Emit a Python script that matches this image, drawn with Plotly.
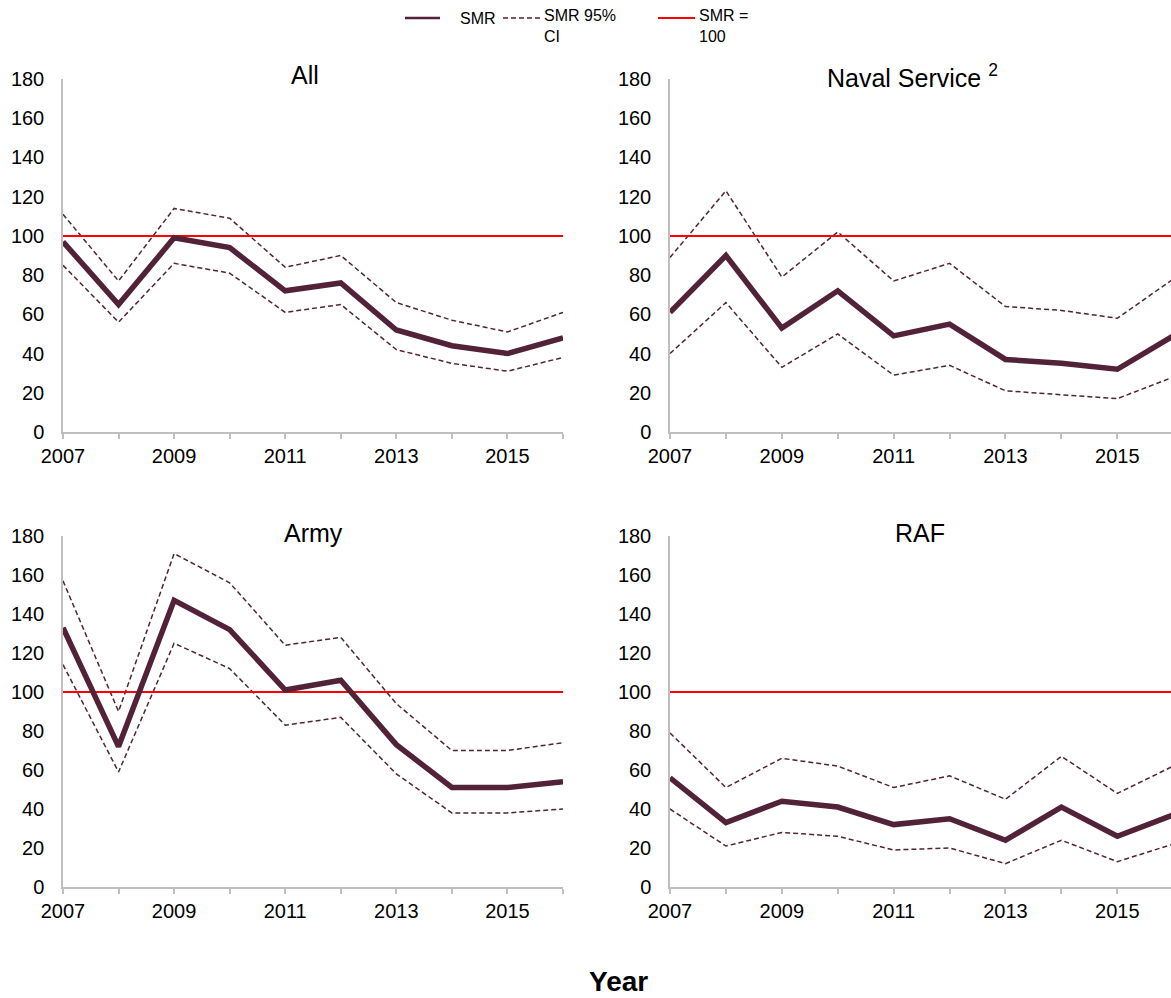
import plotly.graph_objects as go

years = [2007, 2008, 2009, 2010, 2011, 2012, 2013, 2014, 2015, 2016]
x_label_years = [2007, 2009, 2011, 2013, 2015]
x_tick_labels = ["2007", "2009", "2011", "2013", "2015"]
y_ticks = [0, 20, 40, 60, 80, 100, 120, 140, 160, 180]

panel_titles = ["All", "Naval Service <sup>2</sup>", "Army", "RAF"]

all_smr = [97, 65, 99, 94, 72, 76, 52, 44, 40, 48]
all_upper = [111, 77, 114, 109, 84, 90, 66, 57, 51, 61]
all_lower = [85, 56, 86, 81, 61, 65, 42, 35, 31, 38]

naval_smr = [61, 90, 53, 72, 49, 55, 37, 35, 32, 49]
naval_upper = [89, 123, 79, 102, 77, 86, 64, 62, 58, 78]
naval_lower = [40, 66, 33, 50, 29, 34, 21, 19, 17, 28]

army_smr = [133, 72, 147, 132, 101, 106, 73, 51, 51, 54]
army_upper = [157, 90, 171, 156, 124, 128, 94, 70, 70, 74]
army_lower = [114, 59, 125, 112, 83, 87, 58, 38, 38, 40]

raf_smr = [56, 33, 44, 41, 32, 35, 24, 41, 26, 37]
raf_upper = [79, 51, 66, 62, 51, 57, 45, 67, 48, 62]
raf_lower = [40, 21, 28, 26, 19, 20, 12, 24, 13, 22]

reference_value = 100

legend_labels = ["SMR", "SMR 95%<br>CI", "SMR =<br>100"]

panels = [
    (all_smr, all_upper, all_lower),
    (naval_smr, naval_upper, naval_lower),
    (army_smr, army_upper, army_lower),
    (raf_smr, raf_upper, raf_lower),
]

W, H = 1171, 998
SMR_COLOR = "#522338"
RED = "#FF0000"
AXIS_GRAY = "#BFBFBF"
FONT = "Liberation Sans, Arial, sans-serif"

# pixel layout of each panel: (x_left, x_right, y_bottom, y_top)
px = [
    (63, 563, 432, 79),
    (670, 1171, 432, 79),
    (63, 563, 887, 536),
    (670, 1171, 887, 536),
]
x_ranges = [[2007, 2016], [2007, 2015.96], [2007, 2016], [2007, 2015.96]]

fig = go.Figure()
layout_axes = {}

for i, ((smr, up, lo), (xl, xr, yb, yt)) in enumerate(zip(panels, px)):
    n = i + 1
    xa = "x" if n == 1 else f"x{n}"
    ya = "y" if n == 1 else f"y{n}"
    fig.add_trace(go.Scatter(x=years, y=up, mode="lines", name=legend_labels[1],
                             line=dict(color=SMR_COLOR, width=1.5, dash="5px,3px"),
                             xaxis=xa, yaxis=ya, showlegend=False))
    fig.add_trace(go.Scatter(x=years, y=lo, mode="lines", name=legend_labels[1],
                             line=dict(color=SMR_COLOR, width=1.5, dash="5px,3px"),
                             xaxis=xa, yaxis=ya, showlegend=False))
    fig.add_trace(go.Scatter(x=[years[0], years[-1]], y=[reference_value, reference_value],
                             mode="lines", name=legend_labels[2],
                             line=dict(color=RED, width=2),
                             xaxis=xa, yaxis=ya, showlegend=False))
    fig.add_trace(go.Scatter(x=years, y=smr, mode="lines", name=legend_labels[0],
                             line=dict(color=SMR_COLOR, width=5.5),
                             xaxis=xa, yaxis=ya, showlegend=False))

    xkey = "xaxis" if n == 1 else f"xaxis{n}"
    ykey = "yaxis" if n == 1 else f"yaxis{n}"
    layout_axes[xkey] = dict(
        domain=[xl / W, xr / W], anchor=ya, range=x_ranges[i],
        tickmode="array", tickvals=x_label_years, ticktext=x_tick_labels,
        ticks="outside", ticklen=5, tickcolor=AXIS_GRAY, tickwidth=1.5,
        minor=dict(tickmode="array", tickvals=years, ticks="outside", ticklen=5,
                   tickcolor=AXIS_GRAY, tickwidth=1.5, showgrid=False),
        showline=True, linecolor=AXIS_GRAY, linewidth=1.5,
        showgrid=False, zeroline=False,
        tickfont=dict(family=FONT, size=20, color="#000000"),
        automargin=False,
    )
    layout_axes[ykey] = dict(
        domain=[1 - yb / H, 1 - yt / H], anchor=xa, range=[0, 180],
        tickmode="array", tickvals=y_ticks,
        ticks="", showline=True, linecolor=AXIS_GRAY, linewidth=1.5,
        showgrid=False, zeroline=False, ticklabelstandoff=13,
        tickfont=dict(family=FONT, size=20, color="#000000"),
        automargin=False,
    )

annotations = []
title_pos = [(305, 75), (912, 76), (313, 533), (920, 533)]
for t, (cx, cy) in zip(panel_titles, title_pos):
    annotations.append(dict(
        text=t, xref="paper", yref="paper", x=cx / W, y=1 - cy / H,
        xanchor="center", yanchor="middle", showarrow=False,
        font=dict(family=FONT, size=25, color="#000000"),
    ))
annotations.append(dict(
    text="<b>Year</b>", xref="paper", yref="paper", x=618 / W, y=0,
    xanchor="center", yanchor="bottom", showarrow=False, borderpad=0,
    font=dict(family=FONT, size=28, color="#000000"),
))

# manual legend (samples + labels) at the top
legend_items = [
    # (sample x0, x1, label x, label center y, style)
    (405, 440, 458, 18, dict(color=SMR_COLOR, width=2.5)),
    (503, 540, 542, 26, dict(color=SMR_COLOR, width=1.5, dash="5px,3px")),
    (658, 695, 697, 26, dict(color=RED, width=2)),
]
shapes = []
for label, (x0, x1, lx, ly, style) in zip(legend_labels, legend_items):
    shapes.append(dict(type="line", xref="paper", yref="paper",
                       x0=x0 / W, x1=x1 / W, y0=1 - 18 / H, y1=1 - 18 / H,
                       line=style))
    annotations.append(dict(
        text=label, xref="paper", yref="paper", x=lx / W, y=1 - ly / H,
        xanchor="left", yanchor="middle", align="left", showarrow=False,
        font=dict(family=FONT, size=16, color="#000000"),
    ))

fig.update_layout(
    width=W, height=H,
    margin=dict(l=0, r=0, t=0, b=0),
    paper_bgcolor="white", plot_bgcolor="white",
    annotations=annotations,
    shapes=shapes,
    showlegend=False,
    **layout_axes,
)

fig.write_html(
    "out.html",
    config={"displayModeBar": False},
    post_script="document.body.style.margin='0';"
                "document.documentElement.style.overflow='hidden';"
                "document.body.style.overflow='hidden';",
)
